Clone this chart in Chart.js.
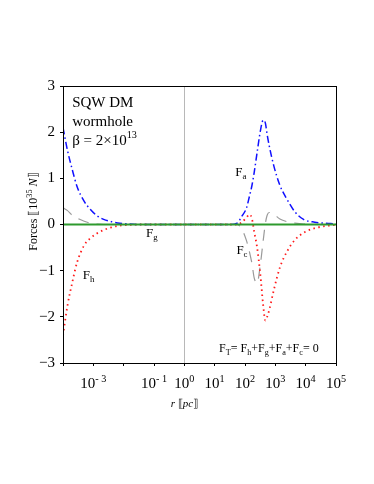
<!DOCTYPE html>
<html>
<head>
<meta charset="utf-8">
<script src="https://cdn.jsdelivr.net/npm/chart.js@4/dist/chart.umd.min.js"></script>
<style>
  body { margin: 0; background: #fff; }
  canvas { display: block; }
</style>
</head>
<body>
<canvas id="canvas" width="374" height="484"></canvas>
<script>
// radius grid in pc, shared by every force curve
const r = [1e-4, 1.41e-4, 2.0e-4, 2.88e-4, 5.0e-4, 7.9e-4, 1.26e-3, 2.19e-3, 3.98e-3, 6.3e-3,
  0.0158, 0.04, 1, 31.6, 55, 79, 112, 141, 170, 200, 251, 316, 398, 468, 537, 631, 891,
  1413, 2455, 4467, 8511, 19950, 66070, 1e5]

// forces in units of 1e35 N
const fA = [2.1, 1.6, 1.2, 0.83, 0.5, 0.33, 0.2, 0.11, 0.06, 0.035, 0.01, 0, 0, 0, 0.03, 0.18,
  0.36, 0.62, 0.85, 1.12, 1.56, 2.0, 2.26, 2.2, 1.95, 1.7, 1.27, 0.85, 0.54, 0.27, 0.11, 0.05, 0.02, 0.01]
const fH = [-2.4, -1.75, -1.27, -0.83, -0.45, -0.3, -0.2, -0.12, -0.06, -0.03, -0.01, 0, 0, 0, 0,
  0.05, 0.15, 0.22, 0.12, -0.15, -0.5, -1.05, -1.75, -2.08, -2.0, -1.85, -1.42, -0.93, -0.58, -0.33,
  -0.18, -0.08, -0.02, -0.01]
const fC = [0.36, 0.3, 0.2, 0.14, 0.07, 0.03, 0.01, 0, 0, 0, 0, 0, 0, 0, 0, -0.1, -0.35, -0.6,
  -0.85, -1.15, -1.27, -0.9, -0.35, 0.02, 0.2, 0.26, 0.22, 0.12, 0.06, 0.03, 0.01, 0, 0, 0]
const fG = r.map(() => 0)

// axis ticks
const xTicks = [1e-4, 1e-3, 1e-2, 1e-1, 1, 10, 100, 1e3, 1e4, 1e5]
const xTickLabels = { '-3': 1e-3, '-1': 1e-1, '0': 1, '1': 10, '2': 100, '3': 1e3, '4': 1e4, '5': 1e5 }
const yTicks = [-3, -2, -1, 0, 1, 2, 3]

const serif = '"Liberation Serif", "Times New Roman", serif'

function pts(ys) {
  return r.map((x, i) => ({ x: x, y: ys[i] }))
}

// draw text made of pieces: {t, pos: 'sup'|'sub', it: italic}
function rich(ctx, parts, x, y, size, align) {
  const font = (p) => (p.it ? 'italic ' : '') + (p.pos ? size * 0.68 : size) + 'px ' + serif
  let w = 0
  parts.forEach(p => { ctx.font = font(p); w += ctx.measureText(p.t).width })
  let cx = align === 'center' ? x - w / 2 : x
  ctx.textAlign = 'left'
  ctx.textBaseline = 'alphabetic'
  parts.forEach(p => {
    ctx.font = font(p)
    let dy = 0
    if (p.pos === 'sup') dy = -size * 0.42
    if (p.pos === 'sub') dy = size * 0.25
    ctx.fillText(p.t, cx, y + dy)
    cx += ctx.measureText(p.t).width
  })
}

const textPlugin = {
  id: 'texts',
  afterDraw(chart) {
    const ctx = chart.ctx
    const xs = chart.scales.x
    const ys = chart.scales.y
    const a = chart.chartArea
    ctx.save()
    ctx.fillStyle = '#000'
    ctx.strokeStyle = '#000'
    ctx.lineWidth = 1
    ctx.strokeRect(a.left + 0.5, a.top + 0.5, a.right - a.left, a.bottom - a.top)

    // x tick labels with exponents
    Object.keys(xTickLabels).forEach(k => {
      const px = xs.getPixelForValue(xTickLabels[k])
      const e = k.startsWith('-') ? '- ' + k.slice(1) : k
      rich(ctx, [{ t: '10' }, { t: e, pos: 'sup' }], px, a.bottom + 25, 15, 'center')
    })
    rich(ctx, [{ t: 'r', it: true }, { t: ' ⟦' }, { t: 'pc', it: true }, { t: '⟧' }], xs.getPixelForValue(1), a.bottom + 44, 11, 'center')

    // y title
    ctx.save()
    ctx.translate(37, ys.getPixelForValue(0.28))
    ctx.rotate(-Math.PI / 2)
    rich(ctx, [{ t: 'Forces ' }, { t: '⟦10' }, { t: '35', pos: 'sup' }, { t: ' ' }, { t: 'N', it: true }, { t: '⟧' }], 0, 0, 12, 'center')
    ctx.restore()

    // header
    const hx = xs.getPixelForValue(2e-4)
    rich(ctx, [{ t: 'SQW DM' }], hx, ys.getPixelForValue(2.55), 15)
    rich(ctx, [{ t: 'wormhole' }], hx, ys.getPixelForValue(2.14), 15)
    rich(ctx, [{ t: 'β = 2×10' }, { t: '13', pos: 'sup' }], hx, ys.getPixelForValue(1.73), 15)

    // curve labels
    const lab = (s, x, y) => rich(ctx, [{ t: 'F' }, { t: s, pos: 'sub' }], xs.getPixelForValue(x), ys.getPixelForValue(y), 13)
    lab('a', 48, 1.05)
    lab('g', 0.055, -0.27)
    lab('c', 52, -0.63)
    lab('h', 4.5e-4, -1.18)

    rich(ctx, [{ t: 'F' }, { t: 'T', pos: 'sub' }, { t: '= F' }, { t: 'h', pos: 'sub' }, { t: '+F' }, { t: 'g', pos: 'sub' },
      { t: '+F' }, { t: 'a', pos: 'sub' }, { t: '+F' }, { t: 'c', pos: 'sub' }, { t: '= 0' }],
      xs.getPixelForValue(14), ys.getPixelForValue(-2.76), 12)
    ctx.restore()
  }
}

const line = (label, ys, color, dash, width) => ({
  label: label,
  data: pts(ys),
  borderColor: color,
  borderDash: dash,
  borderWidth: width,
  pointRadius: 0,
  fill: false,
  cubicInterpolationMode: 'monotone',
})

const data = {
  datasets: [
    line('Fg', fG, '#2e9a2e', [], 2),
    line('Fa', fA, '#1010ff', [7, 3, 1.5, 3], 1.5),
    line('Fh', fH, '#ff1a1a', [1.5, 3.5], 1.8),
    line('Fc', fC, '#9a9a9a', [11, 8], 1.2),
  ],
}

const config = {
  type: 'line',
  data: data,
  options: {
    responsive: false,
    animation: false,
    devicePixelRatio: 1,
    layout: { padding: { top: 86, right: 38, left: 0, bottom: 0 } },
    plugins: { legend: { display: false }, tooltip: { enabled: false } },
    scales: {
      x: {
        type: 'logarithmic',
        min: 1e-4,
        max: 1e5,
        afterBuildTicks: s => { s.ticks = xTicks.map(v => ({ value: v })) },
        afterFit: s => { s.height = 121 },
        ticks: { display: false },
        border: { color: '#000' },
        grid: {
          color: c => (c.tick && c.tick.value === 1 ? '#b8b8b8' : 'rgba(0,0,0,0)'),
          tickColor: '#000',
          tickLength: 3,
        },
      },
      y: {
        min: -3,
        max: 3,
        afterBuildTicks: s => { s.ticks = yTicks.map(v => ({ value: v })) },
        afterFit: s => { s.width = 63 },
        ticks: {
          color: '#000',
          padding: 5,
          font: { family: serif, size: 15 },
          callback: v => (v < 0 ? '−' + Math.abs(v) : '' + v),
        },
        border: { color: '#000' },
        grid: { drawOnChartArea: false, tickColor: '#000', tickLength: 3 },
      },
    },
  },
  plugins: [textPlugin],
}

const canvas = document.getElementById('canvas')
const chart = new Chart(canvas, config)
</script>
</body>
</html>
